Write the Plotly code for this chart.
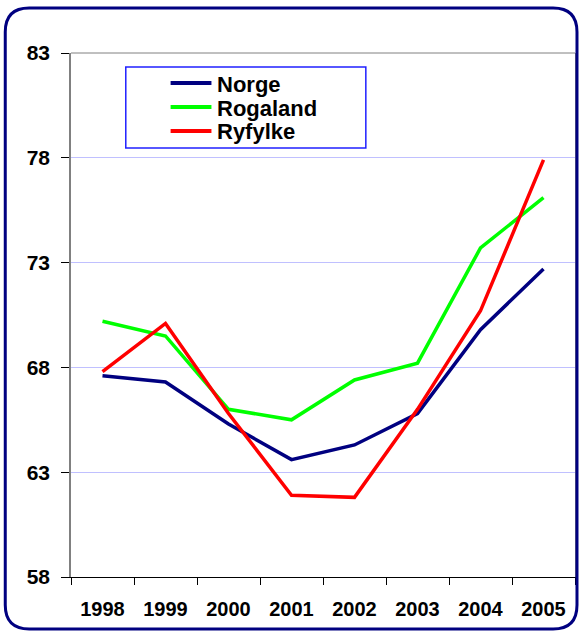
import plotly.graph_objects as go

years = ["1998", "1999", "2000", "2001", "2002", "2003", "2004", "2005"]
norge = [67.6, 67.3, 65.3, 63.6, 64.3, 65.8, 69.8, 72.7]
rogaland = [70.2, 69.5, 66.0, 65.5, 67.4, 68.2, 73.7, 76.1]
ryfylke = [67.8, 70.1, 65.8, 61.9, 61.8, 66.0, 70.7, 77.9]
y_ticks = [58, 63, 68, 73, 78, 83]

series = [("Norge", norge, "#000080"),
          ("Rogaland", rogaland, "#00FF00"),
          ("Ryfylke", ryfylke, "#FF0000")]

W, H = 582, 631
L, R, T, B = 71, 5, 53, 54
pw, ph = W - L - R, H - T - B
FONT = "Liberation Sans, Arial, sans-serif"


def px(x):
    return (x - L) / pw


def py(y):
    return (H - B - y) / ph


fig = go.Figure()
for name, vals, col in series:
    fig.add_trace(go.Scatter(x=years, y=vals, name=name, mode="lines",
                             line=dict(color=col, width=3.5)))

# rounded frame around the whole chart
x0, x1, y0, y1, r = 5, 579, 8, 629, 24
frame = (f"M {px(x0 + r)} {py(y0)} L {px(x1 - r)} {py(y0)} "
         f"Q {px(x1)} {py(y0)} {px(x1)} {py(y0 + r)} "
         f"L {px(x1)} {py(y1 - r)} Q {px(x1)} {py(y1)} {px(x1 - r)} {py(y1)} "
         f"L {px(x0 + r)} {py(y1)} Q {px(x0)} {py(y1)} {px(x0)} {py(y1 - r)} "
         f"L {px(x0)} {py(y0 + r)} Q {px(x0)} {py(y0)} {px(x0 + r)} {py(y0)} Z")
shapes = [
    dict(type="path", path=frame, xref="paper", yref="paper",
         line=dict(color="#000080", width=3), layer="above"),
    # top border of plot area
    dict(type="line", xref="paper", yref="paper", x0=0, x1=1, y0=1, y1=1,
         line=dict(color="#808080", width=1)),
    # legend box
    dict(type="rect", xref="paper", yref="paper",
         x0=px(126), x1=px(367), y0=py(148), y1=py(67),
         line=dict(color="#2020FF", width=1.5), fillcolor="white"),
]

# legend entries: colour sample + series name
annotations = []
for i, (name, _, col) in enumerate(series):
    yy = 83 + i * 24
    shapes.append(dict(type="line", xref="paper", yref="paper",
                       x0=px(171), x1=px(212), y0=py(yy), y1=py(yy),
                       line=dict(color=col, width=4)))
    annotations.append(dict(text=name, xref="paper", yref="paper",
                            x=px(216), y=py(yy + 1), xanchor="left",
                            yanchor="middle", showarrow=False,
                            font=dict(size=22, family=FONT, weight="bold",
                                      color="black")))

fig.update_layout(
    width=W, height=H,
    margin=dict(l=L, r=R, t=T, b=B),
    paper_bgcolor="white", plot_bgcolor="white",
    font=dict(family=FONT, color="black"),
    showlegend=False,
    shapes=shapes,
    annotations=annotations,
    xaxis=dict(type="category", tickson="boundaries", ticks="outside",
               ticklen=7, tickcolor="black", showline=True, linecolor="black",
               linewidth=1, showgrid=False, range=[-0.5, 7.5],
               tickfont=dict(size=20, weight="bold"), ticklabelstandoff=14),
    yaxis=dict(range=[58, 83], tickvals=y_ticks, ticks="outside", ticklen=8,
               tickcolor="black", showline=True, linecolor="#808080",
               linewidth=1.5, mirror=True, showgrid=True,
               gridcolor="#C0C0FF", gridwidth=1, zeroline=False,
               tickfont=dict(size=21, weight="bold"), ticklabelstandoff=7),
)

fig.write_html("out.html")
